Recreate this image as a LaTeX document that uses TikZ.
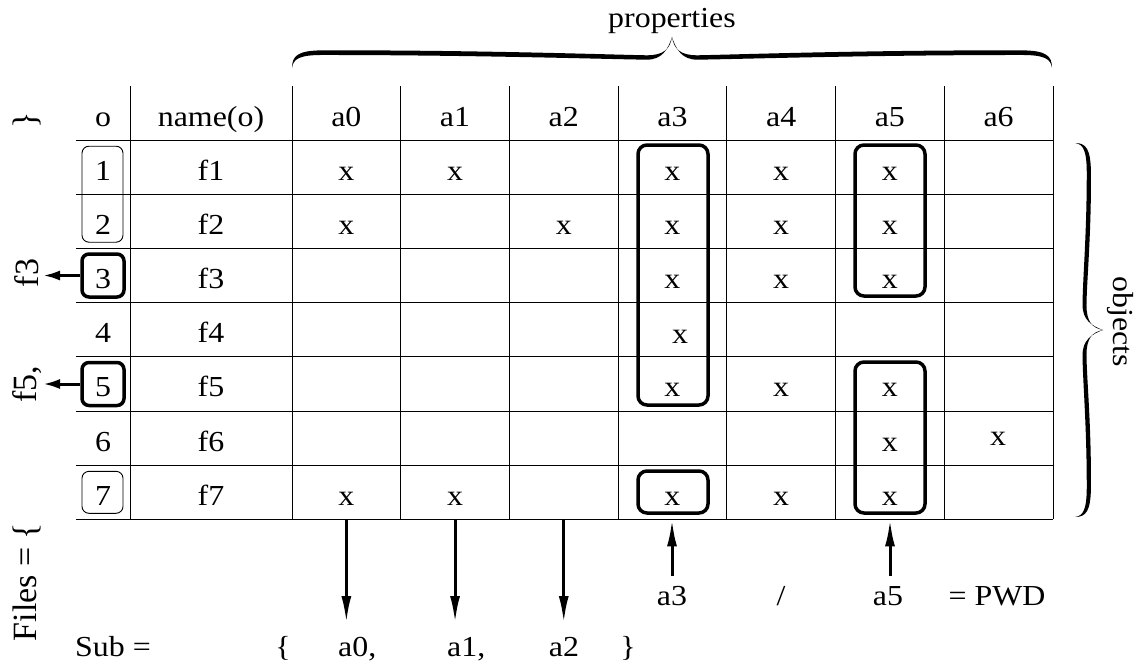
\documentclass[tikz,border=0pt]{standalone}
\usepackage{fontspec}
\setmainfont{Liberation Serif}[FakeStretch=1.1]
\newfontfamily\plainserif{Liberation Serif}
\usetikzlibrary{arrows.meta}
\tikzset{
  txt/.style={font=\fontsize{29}{34}\selectfont, inner sep=0pt, anchor=base},
  rtxt/.style={font=\fontsize{29}{34}\selectfont, inner sep=0pt, anchor=center},
  ltxt/.style={font=\plainserif\fontsize{34}{40}\selectfont, inner sep=0pt, anchor=center, rotate=90},
  gridline/.style={line width=1pt},
  selbox/.style={draw, line width=3.5pt, rounded corners=9pt},
  lsel/.style={draw, line width=3.5pt, rounded corners=7pt, inner sep=0pt},
  lthin/.style={draw, line width=0.9pt, rounded corners=7pt, inner sep=0pt},
  arr/.style={line width=3pt, -{Latex[length=27pt,width=10pt]}},
  larr/.style={line width=3pt, -{Latex[length=17pt,width=10pt]}},
}
% half of a tapered brace: #1 = half length, #2 = amplitude
\newcommand{\myhalfbrace}[2]{%
  \fill (-#1,0) .. controls (-#1,{-0.4*#2}) and ({-#1+6},{-0.56*#2}) .. ({-#1+30},{-0.57*#2})
    .. controls ({-0.5*#1},{-0.58*#2}) and (-50,{-0.42*#2}) .. (-25,{-0.41*#2})
    .. controls (-8,{-0.41*#2}) and (-2,{-0.62*#2}) .. (0,-#2)
    .. controls (-4,{-0.6*#2}) and (-10,{-0.27*#2}) .. (-25,{-0.27*#2})
    .. controls (-50,{-0.27*#2}) and ({-0.5*#1},{-0.42*#2}) .. ({-#1+30},{-0.42*#2})
    .. controls ({-#1+8},{-0.42*#2}) and ({-#1+1},{-0.3*#2}) .. (-#1,0) -- cycle;}
\begin{document}
\begin{tikzpicture}[x=1pt,y=-1pt]
\useasboundingbox (0,0) rectangle (1141,667);
% grid
\foreach \y in {140,194.2,248.4,302.6,356.8,411,465.2,519.4}
  \draw[gridline] (76,\y) -- (1053,\y);
\foreach \x in {130,292,400.7,509.4,618.1,726.9,835.6,944.3,1053}
  \draw[gridline] (\x,86) -- (\x,519.4);
% header
\node[txt] (ho) at (103,126) {o};
\node[txt] (hn) at (211,126) {name(o)};
\foreach \t [count=\i from 0] in {a0,a1,a2,a3,a4,a5,a6}
  \node[txt] (h\i) at ({346.35+108.7*\i},126) {\t};
% row labels
\foreach \r in {1,...,7}{
  \node[txt] (o\r) at (103,{180.1+54.2*(\r-1)}) {\r};
  \node[txt] (n\r) at (211,{180.1+54.2*(\r-1)}) {f\r};
}
% x entries
\foreach \c/\r in {0/1,1/1,3/1,4/1,5/1, 0/2,2/2,3/2,4/2,5/2, 3/3,4/3,5/3, 3/5,4/5,5/5, 5/6, 0/7,1/7,3/7,4/7,5/7}
  \node[txt] (x\c\r) at ({346.35+108.7*\c},{180.1+54.2*(\r-1)}) {x};
\node[txt] (x34) at (680,343) {x};
\node[txt] (x66) at (998,445) {x};
% selection boxes
\draw[selbox] (638,145) rectangle (708,405);
\draw[selbox] (855,145) rectangle (925,296);
\draw[selbox] (855,362) rectangle (925,513);
\draw[selbox] (638,471) rectangle (708,513);
% left boxes
\node[lthin, minimum width=41pt, minimum height=96pt] (b12) at (102.5,194.2) {};
\node[lsel, minimum width=42pt, minimum height=43pt] (b3) at (103,275.5) {};
\node[lsel, minimum width=42pt, minimum height=43pt] (b5) at (103,384) {};
\node[lthin, minimum width=41pt, minimum height=42pt] (b7) at (102.5,492.3) {};
\coordinate (t3) at (43,275.5);
\coordinate (t5) at (43,384);
\draw[larr] (b3.west) -- (t3);
\draw[larr] (b5.west) -- (t5);
% left rotated texts
\node[ltxt] (lclose) at (27,120) {\}};
\node[ltxt] (lf3) at (27,273) {f3};
\node[ltxt] (lf5) at (27,384) {f5,};
\node[ltxt] (lfiles) at (27,582) {Files = \{};
% braces
\begin{scope}[shift={(672,68)}]
  \myhalfbrace{380}{31}
  \begin{scope}[xscale=-1]\myhalfbrace{380}{31}\end{scope}
\end{scope}
\node[txt] (props) at (672,27) {properties};
\begin{scope}[cm={0,-1,1,0,(1075,330)}]
  \myhalfbrace{187}{28}
  \begin{scope}[xscale=-1]\myhalfbrace{187}{28}\end{scope}
\end{scope}
\node[rtxt, rotate=-90] (objs) at (1120,322) {objects};
% bottom arrows
\foreach \i in {0,1,2}{
  \coordinate (d\i) at ({346.35+108.7*\i},519.4);
  \coordinate (e\i) at ({346.35+108.7*\i},623);
  \draw[arr] (d\i) -- (e\i);
}
\coordinate (u3s) at (672,576);
\coordinate (u3e) at (672,519.4);
\coordinate (u5s) at (890,576);
\coordinate (u5e) at (890,519.4);
\draw[arr] (u3s) -- (u3e);
\draw[arr] (u5s) -- (u5e);
% bottom texts
\node[txt] (pa3) at (672,605) {a3};
\node[txt] (pslash) at (781,605) {/};
\node[txt] (pa5) at (888,605) {a5};
\node[txt] (ppwd) at (997,605) {= PWD};
\node[txt] (sub) at (113,656) {Sub =};
\node[txt] (sopen) at (283,656) {\{};
\node[txt, anchor=base west] (s0) at (338,656) {a0,};
\node[txt, anchor=base west] (s1) at (447,656) {a1,};
\node[txt] (s2) at (564,656) {a2};
\node[txt] (sclose) at (628,656) {\}};
\end{tikzpicture}
\end{document}
